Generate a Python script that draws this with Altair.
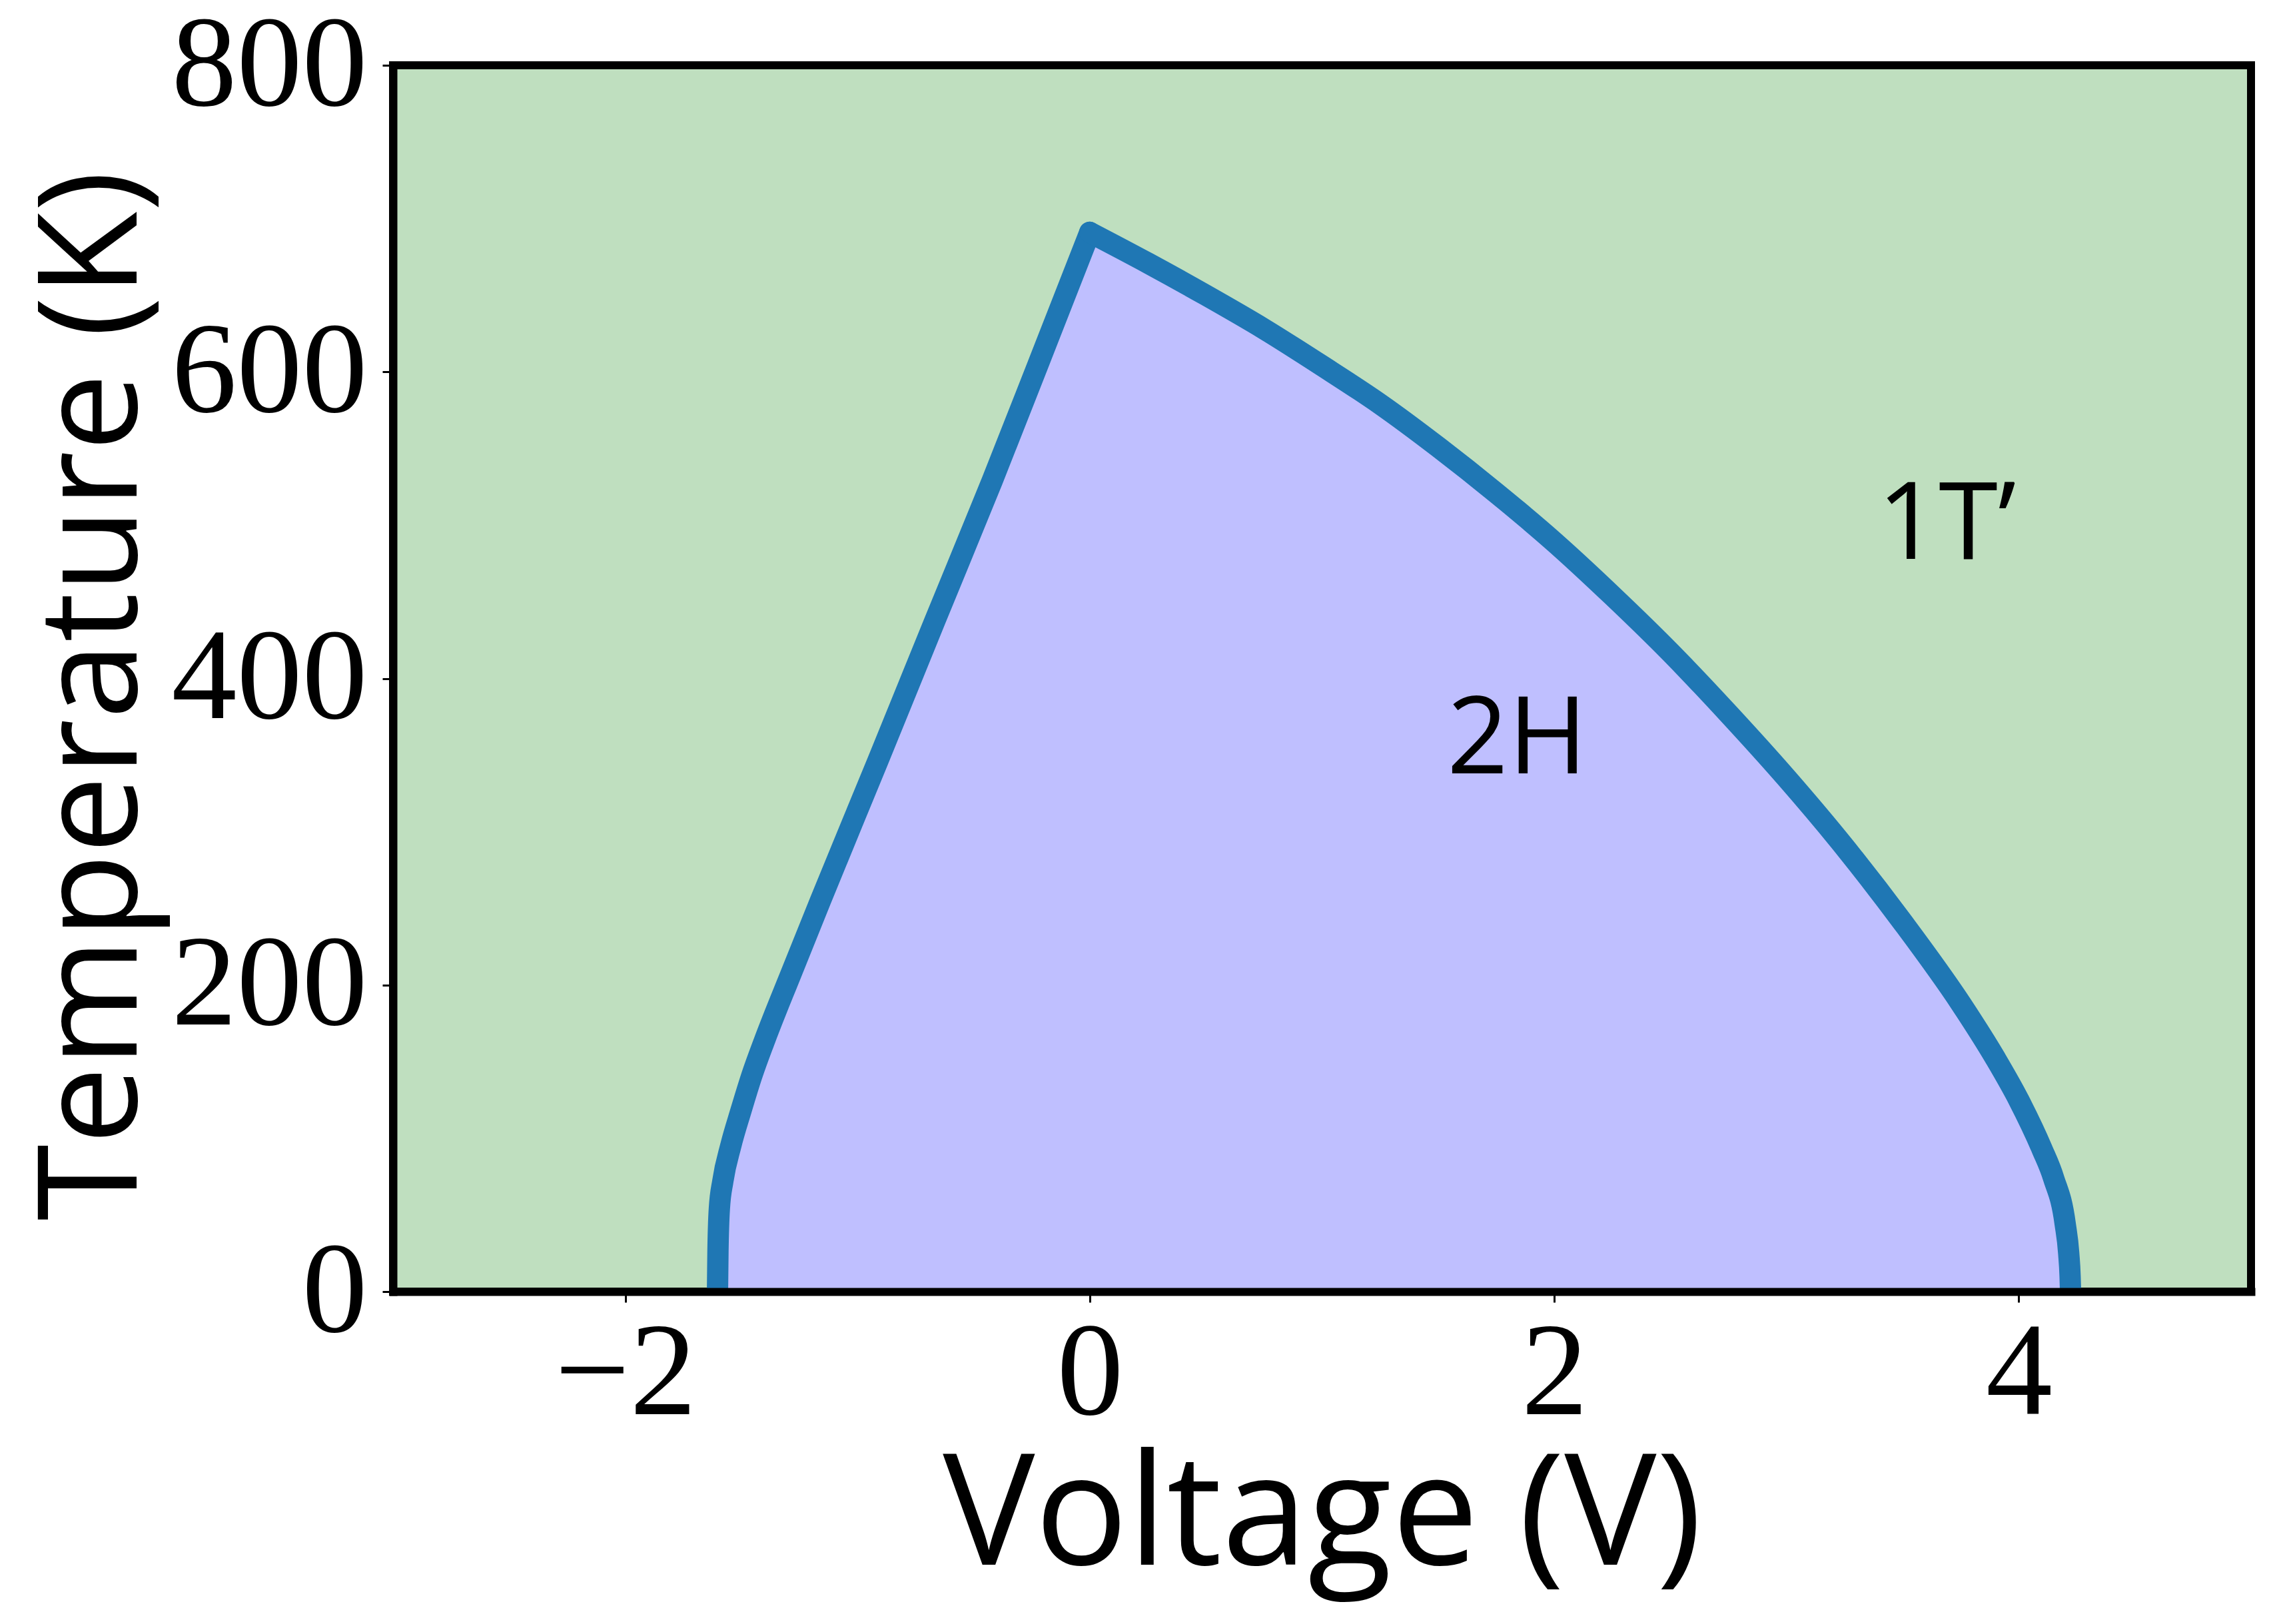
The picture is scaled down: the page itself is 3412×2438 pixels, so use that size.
import altair as alt
import pandas as pd

# Phase boundary (blue line), left branch: voltage (V) and temperature (K)
left_v = [-1.603, -1.601, -1.595, -1.580, -1.546, -1.502, -1.455, -1.400,
          -1.282, -1.160, -0.913, -0.666, -0.420, -0.225, 0.0]
left_t = [0, 26, 54, 72, 95, 118, 141, 164,
          209, 255, 346, 438, 529, 604, 691]
# right branch
right_v = [0.0, 0.25, 0.5, 0.75, 1.0, 1.25, 1.5, 1.75, 2.0, 2.25, 2.5, 2.75,
           3.0, 3.25, 3.5, 3.75, 3.9, 4.0, 4.1, 4.15, 4.2, 4.215, 4.221, 4.223]
right_t = [691, 671, 650, 628, 604, 579, 551, 521, 489, 454, 417, 377,
           335, 290, 241, 188, 152, 125, 93, 74, 44, 25, 10, 0]

# Phase labels
phase_labels = ["2H", "1T\u2019"]
phase_label_v = [1.84, 3.69]
phase_label_t = [338, 478]

x_ticks = [-2, 0, 2, 4]
y_ticks = [0, 200, 400, 600, 800]

boundary = pd.DataFrame({
    "V": left_v + right_v,
    "T": left_t + right_t,
    "branch": ["left"] * len(left_v) + ["right"] * len(right_v),
    "order": list(range(len(left_v) + len(right_v))),
})
labels = pd.DataFrame({"label": phase_labels, "V": phase_label_v, "T": phase_label_t})

x_scale = alt.Scale(domain=[-3, 5], nice=False, zero=False)
y_scale = alt.Scale(domain=[0, 800], nice=False, zero=False)

x_axis = alt.Axis(values=x_ticks, format="d", grid=False, domainColor="black",
                  domainWidth=12, domainCap="square", tickColor="black", tickWidth=3,
                  tickSize=16, labelFont="Liberation Serif", labelFontSize=200,
                  labelColor="black", labelPadding=9, labelFlush=False,
                  labelOverlap=False, labelLimit=2000,
                  title="Voltage (V)", titleFont="Open Sans", titleFontSize=232,
                  titleFontWeight="normal", titleColor="black", titleLimit=4000,
                  titleBaseline="alphabetic", titleY=409, zindex=1)
y_axis = alt.Axis(values=y_ticks, format="d", grid=False, domainColor="black",
                  domainWidth=12, domainCap="square", tickColor="black", tickWidth=3,
                  tickSize=16, labelFont="Liberation Serif", labelFontSize=196,
                  labelColor="black", labelPadding=23, labelFlush=False,
                  labelOverlap=False, labelLimit=2000,
                  title="Temperature (K)", titleFont="Open Sans", titleFontSize=208,
                  titleFontWeight="normal", titleColor="black", titleLimit=4000,
                  titleAngle=270, titleAlign="center", titleBaseline="alphabetic",
                  titleX=-386, titleY=946, zindex=1)

base = alt.Chart(boundary)

area = base.mark_area(color="#bfbfff", opacity=1, interpolate="linear").encode(
    x=alt.X("V:Q", scale=x_scale, axis=x_axis),
    y=alt.Y("T:Q", scale=y_scale, axis=y_axis, stack=None),
)

line = base.mark_line(color="#1f77b4", strokeWidth=32, strokeJoin="round",
                      strokeCap="round", interpolate="monotone", clip=True).encode(
    x=alt.X("V:Q", scale=x_scale),
    y=alt.Y("T:Q", scale=y_scale),
    detail="branch:N",
    order=alt.Order("order:Q"),
)

text = alt.Chart(labels).mark_text(font="Open Sans", fontSize=161, color="black",
                                   align="center", baseline="alphabetic").encode(
    x=alt.X("V:Q", scale=x_scale),
    y=alt.Y("T:Q", scale=y_scale),
    text="label:N",
)

chart = alt.layer(area, line, text).properties(
    width=2789, height=1841,
    autosize=alt.AutoSizeParams(type="none"),
    padding={"left": 582, "top": 90, "right": 25, "bottom": 490},
    background="white",
).configure_view(
    fill="#bfdfbf", stroke="black", strokeWidth=12,
)

chart.save("out.html", embed_options={"renderer": "svg", "actions": False})
